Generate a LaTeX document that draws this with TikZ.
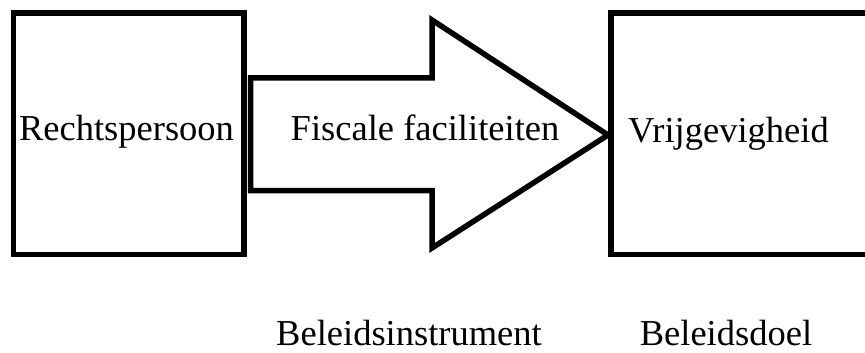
\documentclass[tikz,border=0pt]{standalone}
\usepackage{fontspec}
\setmainfont{Liberation Serif}
\begin{document}
\begin{tikzpicture}[x=1pt,y=-1pt,line width=5.5pt,
		txt/.style={anchor=base,inner sep=0pt,font=\fontsize{36.5}{40}\selectfont}]
		\useasboundingbox (0,0) rectangle (865,353);
		% boxes and arrow
		\draw         (13.5,13) rectangle (244,254.5);
		\draw         (250.5,78) -- (432,78) -- (432,20) -- (608,135) -- (432,248) -- (432,190.5) -- (250.5,190.5) -- cycle;
		\draw         (880,13) -- (611,13) -- (611,254.5) -- (880,254.5);
		% labels
		\node [txt] (persoon)    at (126.5,140) {Rechtspersoon};
		\node [txt] (faciliteit) at (425,140)   {Fiscale faciliteiten};
		\node [txt] (vrij)       at (728.5,142) {Vrijgevigheid};
		\node [txt] (instrument) at (409,345)   {Beleidsinstrument};
		\node [txt] (doel)       at (726,345)   {Beleidsdoel};
	\end{tikzpicture}
\end{document}
